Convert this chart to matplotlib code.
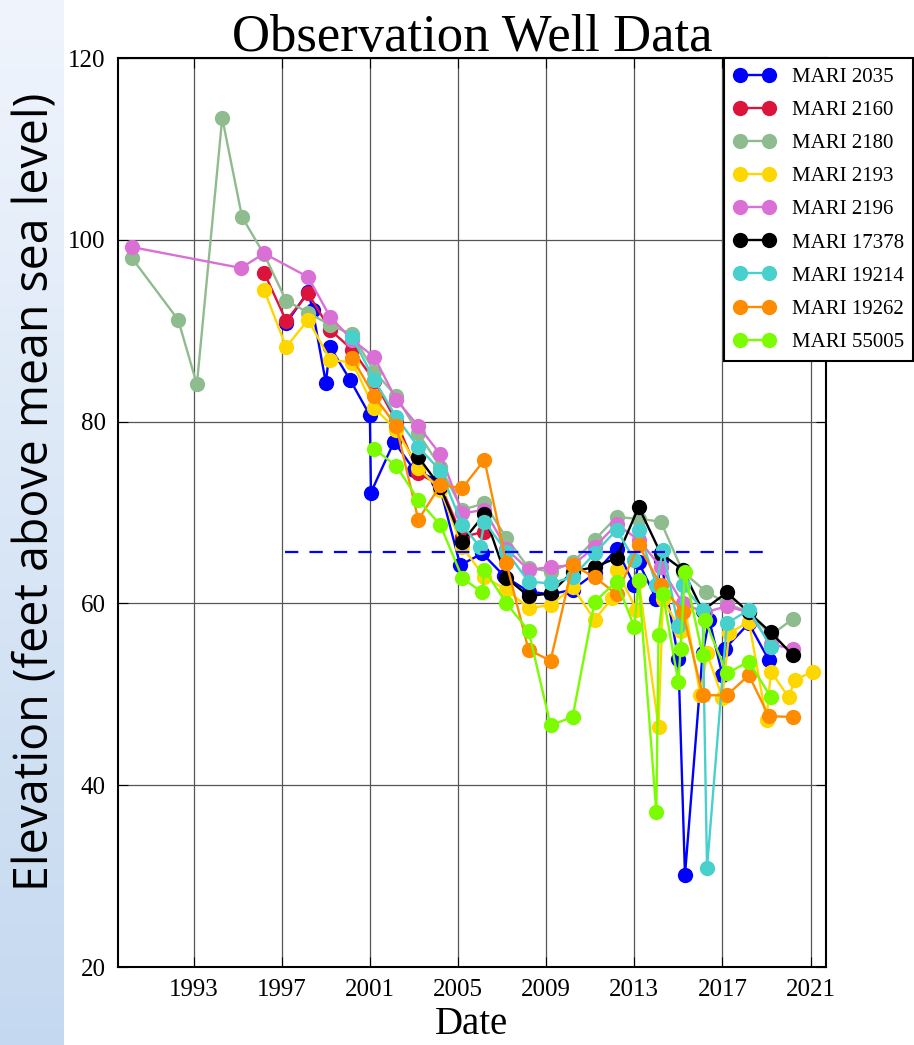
import numpy as np
import matplotlib
matplotlib.use("Agg")
import matplotlib.pyplot as plt

# well names, legend order
wells = ["MARI 2035", "MARI 2160", "MARI 2180", "MARI 2193", "MARI 2196",
         "MARI 17378", "MARI 19214", "MARI 19262", "MARI 55005"]
colors = ["#0000ff", "#dc143c", "#8fbc8f", "#ffd700", "#da70d6",
          "#000000", "#48d1cc", "#ff8c00", "#7cfc00"]

# dates as decimal years, elevations in feet
t_2035 = [1997.2, 1998.2, 1998.4, 1999.0, 1999.2, 2000.1, 2001.0, 2001.05, 2002.1, 2003.0,
          2004.1, 2005.1, 2006.1, 2007.1, 2008.2, 2009.2, 2010.2, 2011.2, 2012.2, 2013.0,
          2013.2, 2014.0, 2014.2, 2015.0, 2015.3, 2016.1, 2016.4, 2017.0, 2017.1, 2018.2, 2019.1]
z_2035 = [90.8, 94.3, 92.3, 84.3, 88.2, 84.6, 80.7, 72.2, 77.8, 74.7,
          73.5, 64.2, 65.5, 63.0, 61.3, 61.0, 61.5, 63.3, 66.0, 62.0,
          64.5, 60.5, 64.8, 53.9, 30.1, 54.5, 58.2, 52.1, 55.0, 57.8, 53.8]

t_2160 = [1996.2, 1997.2, 1998.2, 1999.2, 2000.2, 2001.2, 2002.2, 2003.2, 2004.2, 2005.2, 2006.2]
z_2160 = [96.4, 91.1, 94.1, 90.1, 87.9, 84.5, 80.0, 74.3, 73.0, 67.3, 67.9]

t_2180 = [1990.2, 1992.3, 1993.15, 1994.3, 1995.2, 1996.2, 1997.2, 1998.2, 1999.2, 2000.2,
          2001.2, 2002.2, 2003.2, 2004.2, 2005.2, 2006.2, 2007.2, 2008.2, 2009.2, 2010.2,
          2011.2, 2012.2, 2013.2, 2014.2, 2015.2, 2016.25, 2017.2, 2018.2, 2019.2, 2020.2]
z_2180 = [98.0, 91.2, 84.1, 113.4, 102.5, 98.4, 93.3, 92.0, 90.6, 89.6,
          85.5, 82.8, 78.7, 75.0, 70.3, 71.0, 67.2, 63.9, 63.5, 64.5,
          67.0, 69.5, 69.3, 69.0, 63.5, 61.3, 60.0, 59.0, 56.5, 58.3]

t_2193 = [1996.2, 1997.2, 1998.2, 1999.2, 2000.2, 2001.2, 2002.2, 2003.2, 2004.2, 2005.2,
          2006.2, 2007.2, 2008.2, 2009.2, 2010.2, 2011.2, 2012.0, 2012.2, 2013.1, 2013.2,
          2014.1, 2014.3, 2015.1, 2015.3, 2016.0, 2016.3, 2017.0, 2017.3, 2018.2, 2019.0,
          2019.2, 2020.0, 2020.3, 2021.1]
z_2193 = [94.5, 88.2, 91.2, 86.8, 86.5, 81.5, 79.1, 74.9, 72.5, 66.2,
          62.9, 61.5, 59.5, 59.8, 61.8, 58.2, 60.6, 63.7, 59.3, 62.5,
          46.4, 60.5, 57.0, 59.5, 49.9, 54.5, 49.6, 56.7, 58.0, 47.2,
          52.5, 49.7, 51.6, 52.5]

t_2196 = [1990.2, 1995.15, 1996.2, 1998.2, 1999.2, 2000.2, 2001.2, 2002.2, 2003.2, 2004.2,
          2005.2, 2006.2, 2007.2, 2008.2, 2009.2, 2010.2, 2011.2, 2012.2, 2013.2, 2014.2,
          2015.2, 2016.2, 2017.2, 2018.2, 2019.2, 2020.2]
z_2196 = [99.2, 96.9, 98.5, 95.9, 91.5, 89.0, 87.1, 82.4, 79.5, 76.4,
          69.9, 70.3, 66.0, 63.7, 64.0, 64.2, 66.2, 68.7, 67.0, 64.0,
          60.0, 59.0, 59.7, 59.0, 55.5, 55.0]

t_17378 = [2003.2, 2004.2, 2005.2, 2006.2, 2007.2, 2008.2, 2009.2, 2010.2, 2011.2, 2012.2,
           2013.2, 2014.2, 2015.2, 2016.1, 2017.2, 2018.2, 2019.2, 2020.2]
z_17378 = [76.1, 72.8, 66.8, 69.8, 62.8, 60.8, 61.1, 63.5, 64.0, 65.0,
           70.6, 65.5, 63.7, 59.2, 61.2, 59.0, 56.8, 54.3]

t_19214 = [2000.2, 2001.2, 2002.2, 2003.2, 2004.2, 2005.2, 2006.0, 2006.2, 2007.2, 2008.2,
           2009.2, 2010.2, 2011.2, 2012.2, 2013.0, 2013.2, 2014.0, 2014.3, 2015.0, 2015.2,
           2016.1, 2016.3, 2017.2, 2018.2, 2019.2]
z_19214 = [89.3, 84.6, 80.5, 77.2, 74.6, 68.6, 66.2, 69.0, 65.7, 62.4,
           62.2, 62.9, 65.5, 68.1, 64.8, 68.1, 62.0, 65.9, 57.5, 62.0,
           59.3, 30.9, 57.8, 59.3, 55.2]

t_19262 = [2000.2, 2001.2, 2002.2, 2003.2, 2004.2, 2005.2, 2006.2, 2007.2, 2008.2, 2009.2,
           2010.2, 2011.2, 2012.2, 2013.2, 2014.2, 2015.2, 2016.1, 2017.2, 2018.2, 2019.1, 2020.2]
z_19262 = [87.0, 82.8, 79.5, 69.2, 73.0, 72.7, 75.8, 64.4, 54.9, 53.7,
           64.2, 62.9, 61.0, 66.4, 62.0, 59.1, 49.9, 49.9, 52.1, 47.6, 47.5]

t_55005 = [2001.2, 2002.2, 2003.2, 2004.2, 2005.2, 2006.1, 2006.2, 2007.2, 2008.2, 2009.2,
           2010.2, 2011.2, 2012.2, 2013.0, 2013.2, 2014.0, 2014.1, 2014.3, 2015.0, 2015.1,
           2015.3, 2016.1, 2016.2, 2017.2, 2018.2, 2019.2]
z_55005 = [77.0, 75.1, 71.4, 68.6, 62.8, 61.2, 63.7, 60.0, 57.0, 46.6,
           47.5, 60.2, 62.4, 57.4, 62.6, 37.0, 56.5, 61.0, 51.3, 55.0,
           63.4, 54.3, 58.2, 52.3, 53.6, 49.7]

# reference level (dashed)
ref_t = [1997.14, 2019.04]
ref_z = [65.7, 65.7]

year_ticks = [1993, 1997, 2001, 2005, 2009, 2013, 2017, 2021]
elev_ticks = [20, 40, 60, 80, 100, 120]

series = [(t_2035, z_2035), (t_2160, z_2160), (t_2180, z_2180), (t_2193, z_2193),
          (t_2196, z_2196), (t_17378, z_17378), (t_19214, z_19214),
          (t_19262, z_19262), (t_55005, z_55005)]

plt.rcParams['font.family'] = ['Liberation Serif', 'DejaVu Serif']

W, H = 914, 1045
fig = plt.figure(figsize=(W / 100, H / 100), dpi=100)

# blue gradient strip on the left with the y label
strip = fig.add_axes([0, 0, 64 / W, 1])
grad = np.linspace(0, 1, 256).reshape(-1, 1)
top_c = np.array([0.94, 0.96, 0.99])
bot_c = np.array([0.77, 0.85, 0.94])
img = top_c + (bot_c - top_c) * grad[:, :, None]
strip.imshow(img, aspect='auto', extent=[0, 1, 0, 1], origin='upper')
strip.set_axis_off()
fig.text(36 / W, 1 - 492 / H, "Elevation (feet above mean sea level)",
         rotation=90, ha='center', va='center', fontsize=33.5,
         family=['Open Sans', 'DejaVu Sans'], color='black')

ax = fig.add_axes([118 / W, 1 - 967 / H, 708 / W, 909 / H])
for (t, z), name, c in zip(series, wells, colors):
    ax.plot(t, z, '-o', color=c, lw=1.7, ms=11, mec=c, mew=0, label=name)

ax.plot(ref_t, ref_z, '--', color='#0000ff', lw=1.6, dashes=(6, 5))

ax.set_xlim(1989.57, 2021.7)
ax.set_ylim(20, 120)
ax.set_xticks(year_ticks)
ax.set_yticks(elev_ticks)
ax.tick_params(direction='in', top=True, right=True, length=7, labelsize=18, pad=9)
ax.grid(True, color='#555555', lw=0.9)
for s in ax.spines.values():
    s.set_linewidth(1.5)

ax.set_xlabel("Date", fontsize=28, labelpad=3)
ax.set_title("Observation Well Data", fontsize=38, pad=5)

leg = ax.legend(loc='upper left', bbox_to_anchor=(0.856, 1.0), borderaxespad=0,
                numpoints=2, fontsize=15, labelspacing=0.65, handlelength=2.0,
                handletextpad=0.8, borderpad=0.45, fancybox=False, edgecolor='black',
                framealpha=1)
leg.get_frame().set_linewidth(1.5)

fig.savefig("out.png", dpi=100)
